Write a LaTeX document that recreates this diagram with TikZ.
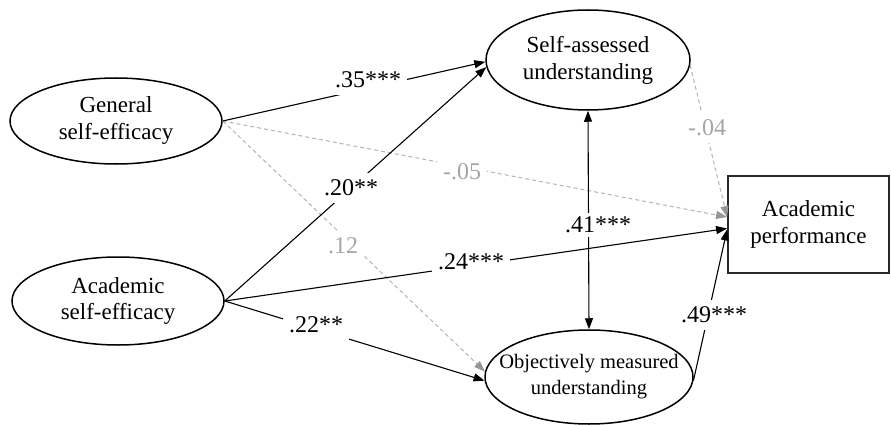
\documentclass[tikz,border=0pt]{standalone}
\usepackage{fontspec}
\setmainfont{Liberation Serif}
\usetikzlibrary{shapes.geometric,arrows.meta}
\definecolor{lgray}{RGB}{180,180,180}
\definecolor{agray}{RGB}{150,150,150}
\definecolor{tgray}{RGB}{165,165,165}
\definecolor{bordergray}{RGB}{40,40,40}
\begin{document}
\begin{tikzpicture}[x=1pt,y=-1pt,
  lat/.style={ellipse,draw,line width=1.5pt,align=center,
    font=\fontsize{23}{27}\selectfont,inner xsep=-30pt,inner ysep=-10pt},
  obs/.style={rectangle,draw=bordergray,line width=1.8pt,align=center,
    font=\fontsize{23}{27}\selectfont,minimum width=161pt,minimum height=97pt},
  sigpath/.style={line width=1.1pt,-{Triangle[length=11pt,width=8pt]}},
  nspath/.style={draw=lgray,line width=1pt,dash pattern=on 4pt off 3pt,
    -{Triangle[length=11pt,width=8pt,color=agray]}},
  coef/.style={fill=white,inner xsep=6pt,inner ysep=7pt,font=\fontsize{24}{24}\selectfont},
  ncoef/.style={coef,text=tgray}]
\path[fill=white,use as bounding box] (0,0) rectangle (891,425);

\node[lat,minimum width=212pt,minimum height=86pt] (gse) at (116,121) {General\\self-efficacy};
\node[lat,minimum width=212pt,minimum height=88pt] (ase) at (118,301) {Academic\\self-efficacy};
\node[lat,minimum width=204pt,minimum height=100pt] (sau) at (588,60) {Self-assessed\\understanding};
\node[lat,minimum width=208pt,minimum height=94pt,font=\fontsize{20.5}{26}\selectfont] (osu) at (589,377) {Objectively measured\\understanding};
\node[obs] (ap) at (808.5,224.5) {Academic\\performance};

% non-significant paths
\draw[nspath] (gse.east) -- ([yshift=7.5pt]ap.west);
\draw[nspath] (gse.east) -- (osu.177);
\draw[nspath] (sau.-3) -- ([yshift=7.5pt]ap.west);

% significant paths
\draw[sigpath] (gse.east) -- (sau.181);
\draw[sigpath] (ase.east) -- (sau.184);
\draw[sigpath] (ase.east) -- ([yshift=-4pt]ap.west);
\draw[sigpath] (ase.east) -- (osu.182);
\draw[sigpath] (osu.-2) -- ([yshift=-5pt]ap.west);
\draw[line width=1.1pt,{Triangle[length=11pt,width=8pt]}-{Triangle[length=11pt,width=8pt]}] (sau.south) -- (osu.north);

% coefficients
\node[coef] (c35) at (368,80) {.35***};
\node[coef] (c20) at (351,188) {.20**};
\node[coef] (c24) at (471,262) {.24***};
\node[coef] (c22) at (316,325) {.22**};
\node[coef,inner ysep=4pt] (c41) at (598,225) {.41***};
\node[coef] (c49) at (714,315) {.49***};
\node[ncoef] (c05) at (462,172) {-.05};
\node[ncoef] (c12) at (343,246) {.12};
\node[ncoef] (c04) at (707,128) {-.04};
\end{tikzpicture}
\end{document}
